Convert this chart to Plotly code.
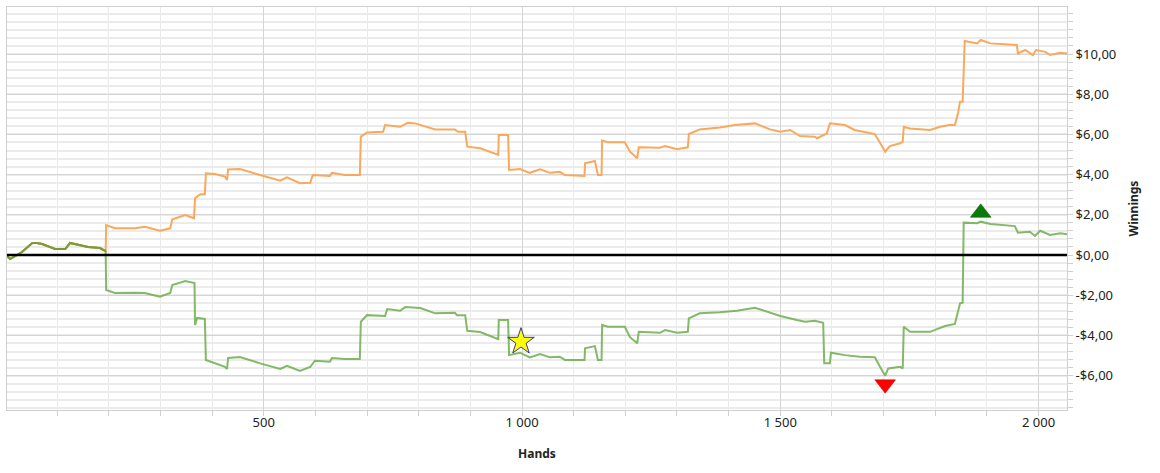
import plotly.graph_objects as go

# Shared start (both series coincide)
start_hands = [3, 9, 32, 52, 61, 71, 96, 116, 125, 160, 183, 194]
start_vals = [-0.05, -0.2, 0.15, 0.6, 0.6, 0.55, 0.3, 0.3, 0.6, 0.4, 0.35, 0.2]

green_hands = [195, 212, 251, 270, 299, 319, 323, 348, 366, 367, 371, 386, 388, 406, 425, 429, 431,
               454, 493, 532, 545, 570, 590, 599, 628, 632, 657, 686, 688, 700, 735, 739, 764, 774,
               803, 832, 870, 874, 890, 894, 919, 948, 954, 955, 973, 975, 996, 1015, 1035, 1054,
               1073, 1083, 1121, 1122, 1141, 1147, 1154, 1155, 1166, 1199, 1209, 1223, 1226, 1267,
               1277, 1300, 1321, 1323, 1344, 1383, 1416, 1451, 1480, 1500, 1532, 1548, 1567, 1583,
               1585, 1596, 1598, 1625, 1654, 1683, 1693, 1703, 1709, 1732, 1737, 1739, 1751, 1790,
               1819, 1838, 1848, 1853, 1855, 1881, 1888, 1907, 1954, 1960, 1983, 1993, 2003, 2022,
               2042, 2055]
green_vals = [-1.74, -1.89, -1.88, -1.89, -2.07, -1.89, -1.49, -1.29, -1.39, -3.48, -3.13, -3.18,
              -5.22, -5.37, -5.56, -5.67, -5.12, -5.07, -5.39, -5.67, -5.51, -5.77, -5.57, -5.26,
              -5.31, -5.12, -5.17, -5.17, -3.32, -2.99, -3.03, -2.69, -2.77, -2.59, -2.64, -2.90,
              -2.87, -2.99, -2.99, -3.77, -3.83, -4.13, -4.18, -3.23, -3.23, -4.98, -4.86, -5.09,
              -4.93, -5.09, -5.06, -5.22, -5.22, -4.64, -4.53, -5.22, -5.22, -3.48, -3.57, -3.57,
              -4.09, -4.39, -3.82, -3.87, -3.73, -3.87, -3.82, -3.15, -2.90, -2.85, -2.77, -2.62,
              -2.85, -3.03, -3.23, -3.32, -3.27, -3.37, -5.39, -5.39, -4.86, -4.98, -5.06, -5.09,
              -5.56, -6.00, -5.64, -5.56, -5.64, -3.57, -3.82, -3.82, -3.53, -3.43, -2.40, -2.37,
              1.61, 1.58, 1.66, 1.54, 1.44, 1.11, 1.16, 0.95, 1.21, 1.00, 1.08, 1.03]

orange_hands = [195, 212, 251, 270, 299, 319, 323, 348, 365, 367, 377, 386, 388, 406, 425, 429, 431,
                454, 493, 532, 545, 570, 590, 595, 628, 632, 657, 686, 688, 700, 731, 735, 764, 779,
                793, 812, 832, 870, 876, 890, 894, 919, 948, 954, 955, 973, 975, 996, 1015, 1035,
                1054, 1073, 1083, 1121, 1122, 1141, 1147, 1154, 1155, 1166, 1199, 1209, 1223, 1226,
                1267, 1277, 1300, 1321, 1323, 1344, 1383, 1412, 1451, 1480, 1500, 1519, 1538, 1567,
                1571, 1590, 1596, 1625, 1644, 1683, 1693, 1703, 1712, 1732, 1737, 1739, 1751, 1790,
                1809, 1828, 1838, 1844, 1848, 1853, 1857, 1881, 1888, 1907, 1958, 1960, 1974, 1989,
                1995, 2013, 2022, 2042, 2055]
orange_vals = [1.49, 1.33, 1.33, 1.41, 1.21, 1.33, 1.78, 1.99, 1.83, 2.82, 3.03, 3.03, 4.06, 4.03,
               3.90, 3.73, 4.26, 4.28, 3.98, 3.70, 3.87, 3.57, 3.60, 3.98, 3.93, 4.09, 3.98, 3.98,
               5.89, 6.10, 6.13, 6.47, 6.38, 6.58, 6.55, 6.42, 6.25, 6.25, 6.13, 6.13, 5.39, 5.31,
               5.01, 4.98, 5.97, 5.97, 4.23, 4.28, 4.09, 4.26, 4.09, 4.14, 3.98, 3.93, 4.56, 4.68,
               3.98, 3.98, 5.69, 5.61, 5.61, 5.14, 4.81, 5.36, 5.34, 5.42, 5.26, 5.36, 6.02, 6.25,
               6.35, 6.47, 6.55, 6.25, 6.13, 6.22, 5.92, 5.89, 5.81, 6.05, 6.55, 6.47, 6.22, 6.02,
               5.59, 5.14, 5.42, 5.56, 5.64, 6.38, 6.30, 6.22, 6.38, 6.47, 6.47, 7.05, 7.63, 7.63,
               10.65, 10.53, 10.70, 10.53, 10.45, 10.03, 10.20, 9.95, 10.20, 10.11, 9.95, 10.06, 10.03]

star_hand, star_val = [998], [-4.31]
low_hand, low_val = [1703], [-6.43]
high_hand, high_val = [1888], [2.10]

y_tickvals = [-6, -4, -2, 0, 2, 4, 6, 8, 10]
y_ticktext = ["-$6,00", "-$4,00", "-$2,00", "$0,00", "$2,00", "$4,00", "$6,00", "$8,00", "$10,00"]
x_tickvals = [500, 1000, 1500, 2000]
x_ticktext = ["500", "1 000", "1 500", "2 000"]

fig = go.Figure()
fig.add_trace(go.Scatter(x=start_hands + orange_hands, y=start_vals + orange_vals, mode="lines",
                         line=dict(color="#F9A85C", width=2), hoverinfo="skip"))
fig.add_trace(go.Scatter(x=start_hands + green_hands, y=start_vals + green_vals, mode="lines",
                         line=dict(color="#6DAE4E", width=2), opacity=0.85, hoverinfo="skip"))
fig.add_trace(go.Scatter(x=start_hands, y=start_vals, mode="lines",
                         line=dict(color="#7E9A38", width=2), hoverinfo="skip"))
fig.add_hline(y=0, line=dict(color="black", width=2.5), layer="above")
fig.add_trace(go.Scatter(x=star_hand, y=star_val, mode="markers",
                         marker=dict(symbol="star", size=20, color="#FFFF00",
                                     line=dict(color="#3A3A8C", width=1))))
fig.add_trace(go.Scatter(x=low_hand, y=low_val, mode="markers",
                         marker=dict(symbol="triangle-down", size=18, color="#FF0000",
                                     line=dict(color="#C00000", width=0.5))))
fig.add_trace(go.Scatter(x=high_hand, y=high_val, mode="markers",
                         marker=dict(symbol="triangle-up", size=18, color="#0A7A0A",
                                     line=dict(color="#006000", width=0.5))))

fig.update_layout(
    width=1160, height=473,
    margin=dict(l=7, r=93, t=7, b=63),
    paper_bgcolor="white", plot_bgcolor="white",
    showlegend=False,
    font=dict(family="Noto Sans, Open Sans, sans-serif", size=13, color="#222222"),
)
fig.update_xaxes(
    range=[3, 2055],
    tickmode="array", tickvals=x_tickvals, ticktext=x_ticktext,
    showgrid=True, gridcolor="#D4D4D4", gridwidth=1,
    ticks="", showline=True, linecolor="#D0D0D0", linewidth=1, mirror=True,
    zeroline=False,
    minor=dict(tickmode="linear", tick0=0, dtick=100, showgrid=True, gridcolor="#EBEBEB",
               ticks="outside", ticklen=5, tickcolor="#D0D0D0"),
    tickfont=dict(size=13),
    title=dict(text="<b>Hands</b>", font=dict(size=12), standoff=20),
)
fig.update_yaxes(
    range=[-7.71, 12.34], side="right",
    tickmode="array", tickvals=y_tickvals, ticktext=y_ticktext,
    showgrid=True, gridcolor="#D4D4D4", gridwidth=1,
    ticks="outside", ticklen=5, tickcolor="#D0D0D0",
    showline=True, linecolor="#D0D0D0", linewidth=1, mirror=True,
    zeroline=False,
    minor=dict(tickmode="linear", tick0=0, dtick=0.4, showgrid=True, gridcolor="#EBEBEB",
               gridwidth=1.5, ticks="outside", ticklen=5, tickcolor="#D0D0D0"),
    tickfont=dict(size=13),
    title=dict(text="<b>Winnings</b>", font=dict(size=12), standoff=14),
)

fig.write_html("out.html", config={"displayModeBar": False},
               post_script="document.body.style.margin='0';")
